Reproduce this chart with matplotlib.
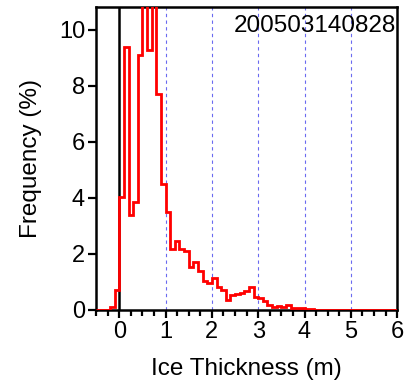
import numpy as np
import matplotlib
matplotlib.use("Agg")
import matplotlib.pyplot as plt
from matplotlib.ticker import MultipleLocator

plt.rcParams['font.family'] = ['Liberation Sans', 'DejaVu Sans']

# Histogram bin edges (m) and frequencies (%)
bin_edges = np.round(np.arange(-0.5, 6.0001, 0.1), 2)
freq = [0, 0, 0, 0.1, 0.7,
        4.05, 9.4, 3.4, 3.87, 9.1, 11.5, 9.3, 11.5, 7.7, 4.5,
        3.5, 2.17, 2.48, 2.17, 2.12, 1.52, 1.70, 1.40, 1.04, 0.95,
        1.13, 0.82, 0.71, 0.36, 0.54, 0.56, 0.60, 0.68, 0.81, 0.45,
        0.42, 0.32, 0.18, 0.10, 0.14, 0.10, 0.18, 0.08, 0.06, 0.07,
        0.03, 0.02, 0.01, 0.01, 0.01, 0, 0, 0, 0, 0,
        0, 0, 0, 0, 0, 0, 0, 0, 0, 0]
title_text = "200503140828"
x_ticks = [0, 1, 2, 3, 4, 5, 6]
y_ticks = [0, 2, 4, 6, 8, 10]
dashed_x = [1, 2, 3, 4, 5]

fig = plt.figure(figsize=(4.09, 3.87), dpi=100)
ax = fig.add_axes([0.235, 0.199, 0.736, 0.783])

for xv in dashed_x:
    ax.axvline(xv, color='#6a6af0', lw=0.8, dashes=(3, 3), zorder=1)
ax.axvline(0, color='black', lw=1.8, zorder=2)

ax.stairs(freq, bin_edges, color='red', lw=2.0, baseline=None, zorder=3)

ax.set_xlim(-0.5, 6)
ax.set_ylim(0, 10.82)
ax.set_xticks(x_ticks)
ax.set_yticks(y_ticks)
ax.xaxis.set_minor_locator(MultipleLocator(0.25))
ax.tick_params(axis='both', which='major', direction='out', length=6, width=1.6, labelsize=17, pad=2)
ax.tick_params(axis='x', which='minor', direction='out', length=4, width=1.6)
for s in ax.spines.values():
    s.set_linewidth(1.8)

ax.set_xlabel('Ice Thickness (m)', fontsize=17.5, labelpad=10.5)
ax.set_ylabel('Frequency (%)', fontsize=17.5, labelpad=12)
ax.text(0.995, 0.975, title_text, transform=ax.transAxes, ha='right', va='top', fontsize=17.5)

fig.savefig('out.png', dpi=100)
